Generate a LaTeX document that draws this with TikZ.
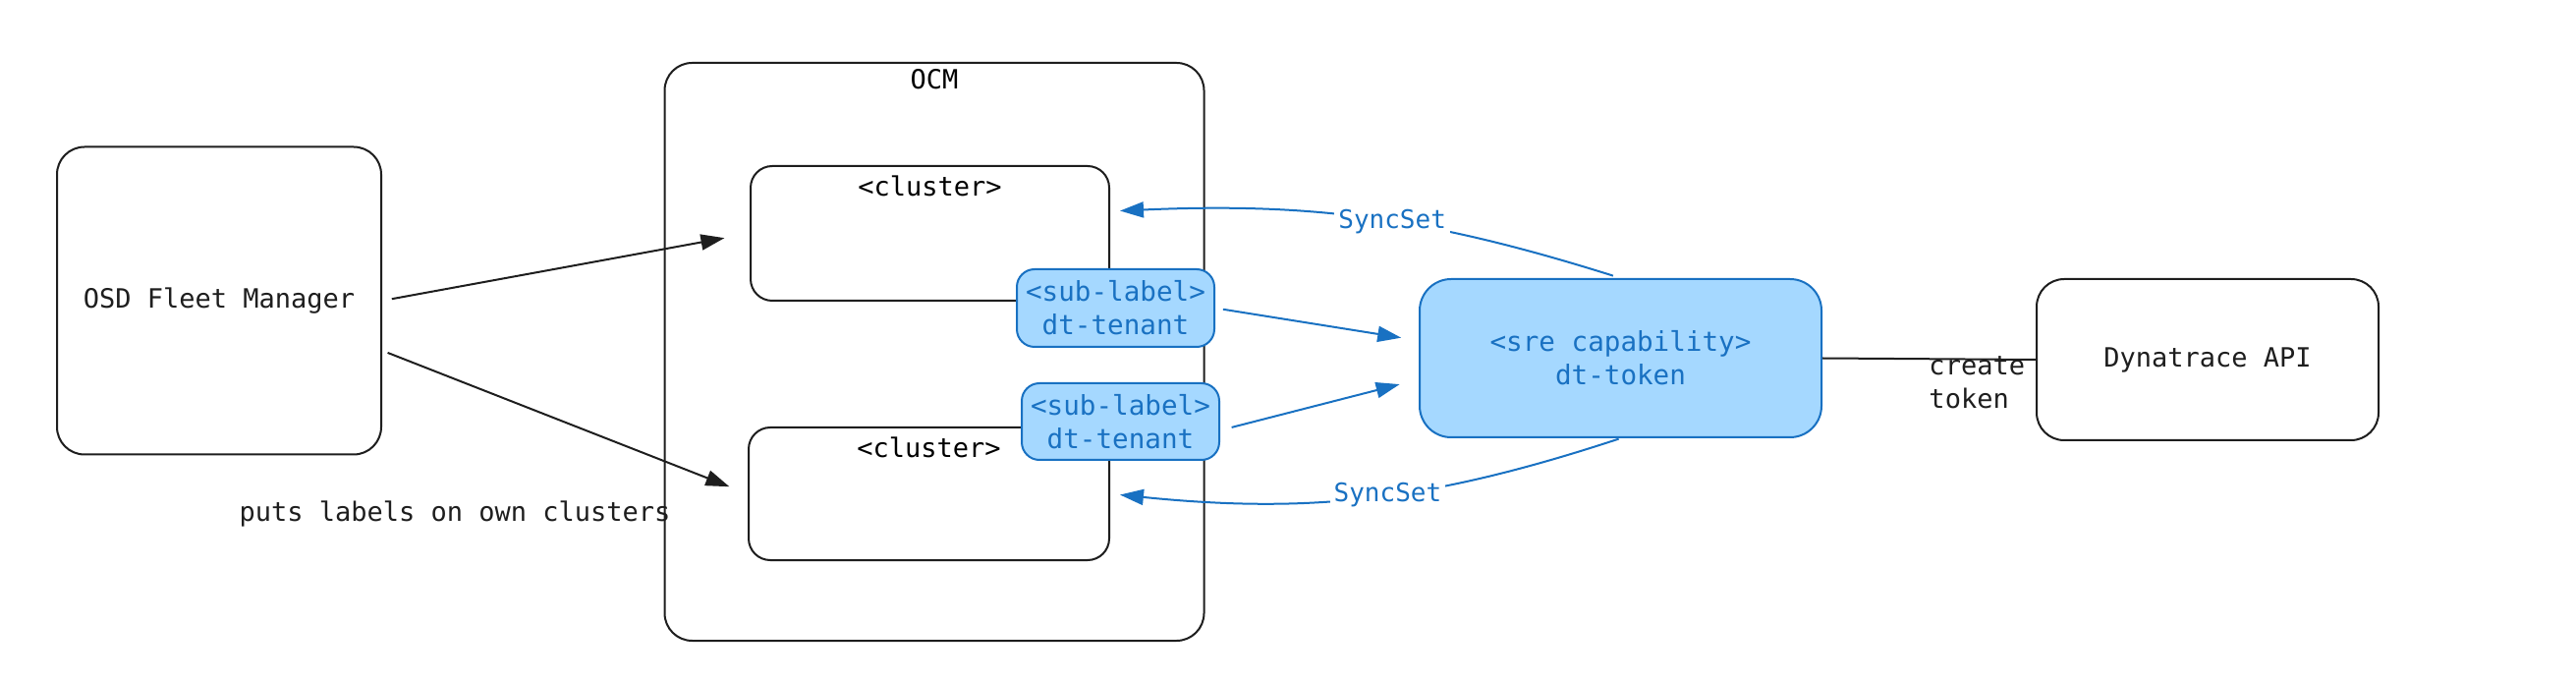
\documentclass[tikz,border=0pt]{standalone}
\usepackage{fontspec}
\setmonofont{DejaVu Sans Mono}
\newfontfamily\bluefont{DejaVu Sans Mono}
\usetikzlibrary{arrows.meta,positioning}
\definecolor{ink}{HTML}{1E1E1E}
\definecolor{bluefill}{HTML}{A5D8FF}
\definecolor{blueline}{HTML}{1971C2}
\begin{document}
\begin{tikzpicture}[x=0.5pt,y=-0.5pt,
    font=\ttfamily\fontsize{13.5}{17}\selectfont,
    box/.style={draw=ink,line width=1pt,rounded corners=14pt,fill=white,text=ink},
    bluebox/.style={draw=blueline,fill=bluefill,line width=1pt,rounded corners=9pt,text=blueline,align=center,font=\bluefont\fontsize{13.8}{17}\selectfont},
    bluetext/.style={text=blueline,fill=white,inner sep=2pt,font=\bluefont\fontsize{13}{17}\selectfont},
    arrow/.style={-{Triangle[length=12pt,width=8pt]},line width=1pt}]
    \useasboundingbox (0,0) rectangle (2622,694);

    \node[box, minimum width=165pt, minimum height=156.5pt] at (223,306) (osd) {OSD Fleet Manager};

    \node[box, minimum width=274.5pt, minimum height=294pt, label={[anchor=north]north:OCM}] at (951,358) (ocm) {};
    \node[box, rounded corners=11pt, minimum width=182.5pt, minimum height=68.5pt, label={[anchor=north,yshift=-2pt]north:<cluster>}] at (946.5,237.5) (cl1) {};
    \node[box, rounded corners=11pt, minimum width=183.5pt, minimum height=67.5pt, label={[anchor=north,yshift=-2pt]north:<cluster>}] at (945.5,502.5) (cl2) {};

    \node[bluebox, minimum width=100.5pt, minimum height=39.5pt] at (1135.5,313.5) (sub1) {<sub-label>\\dt-tenant};
    \node[bluebox, minimum width=100.5pt, minimum height=39pt] at (1140.5,429) (sub2) {<sub-label>\\dt-tenant};

    \node[bluebox, rounded corners=16pt, minimum width=204.5pt, minimum height=80.5pt] at (1649.5,364.5) (sre) {<sre capability>\\dt-token};
    \node[box, minimum width=174pt, minimum height=82pt] at (2247,366) (dyn) {Dynatrace API};

    \node[text=ink] at (463,523) (puts) {puts labels on own clusters};

    \draw[arrow, ink, shorten <=5pt, shorten >=13pt] (osd.east) -- (cl1.west);
    \draw[arrow, ink, shorten <=3pt, shorten >=10pt] (osd.-17) -- (cl2.west);

    \draw[arrow, blueline, shorten <=4pt, shorten >=9pt] (sub1.east) -- (sre.175);
    \draw[arrow, blueline, shorten <=6pt, shorten >=10pt] (sub2.-5) -- (sre.186);

    \draw[arrow, blueline, shorten <=4pt, shorten >=5pt] (sre.north) to[bend right=10] node[bluetext, pos=0.45] {SyncSet} (cl1.7);
    \draw[arrow, blueline, shorten <=1pt, shorten >=5pt] (sre.south) to[bend left=12] node[bluetext, pos=0.46] {SyncSet} (cl2.east);

    \draw[line width=1pt, ink] (sre.east) -- (dyn.west) node[pos=1, below left, align=left, inner sep=2pt, xshift=-3pt, yshift=4pt] (tok) {create\\token};
\end{tikzpicture}
\end{document}
